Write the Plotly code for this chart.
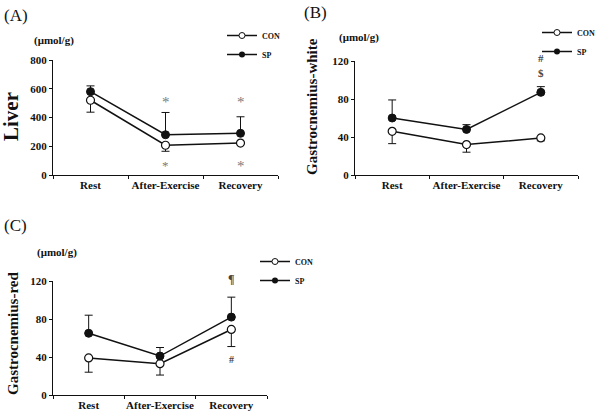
import plotly.graph_objects as go

categories = ["Rest", "After-Exercise", "Recovery"]

# Panel A: Liver
liver_con = [520, 207, 222]
liver_con_err = [83, 42, 0]
liver_sp = [580, 280, 290]
liver_sp_err = [40, 155, 115]

# Panel B: Gastrocnemius-white
white_con = [46, 32, 39]
white_con_err = [13, 8, 3]
white_sp = [60, 48, 87]
white_sp_err = [19, 5, 6]

# Panel C: Gastrocnemius-red
red_con = [39, 33, 69]
red_con_err = [15, 12, 18]
red_sp = [65, 41, 82]
red_sp_err = [19, 9, 21]

FONT = "Liberation Serif"
BLACK = "#111111"

fig = go.Figure()

panels = [
    ("x", "y", "legend", liver_con, liver_con_err, liver_sp, liver_sp_err),
    ("x2", "y2", "legend2", white_con, white_con_err, white_sp, white_sp_err),
    ("x3", "y3", "legend3", red_con, red_con_err, red_sp, red_sp_err),
]

for xa, ya, lg, con, con_e, sp, sp_e in panels:
    fig.add_trace(go.Scatter(
        x=categories, y=con, xaxis=xa, yaxis=ya, showlegend=False, name="CON",
        mode="lines+markers",
        line=dict(color=BLACK, width=1.5),
        marker=dict(symbol="circle", size=8, color="white", line=dict(color=BLACK, width=1.2)),
        error_y=dict(type="data", symmetric=False, array=[0, 0, 0], arrayminus=con_e,
                     color=BLACK, thickness=1, width=4),
    ))
    fig.add_trace(go.Scatter(
        x=categories, y=sp, xaxis=xa, yaxis=ya, showlegend=False, name="SP",
        mode="lines+markers",
        line=dict(color=BLACK, width=1.5),
        marker=dict(symbol="circle", size=8, color=BLACK, line=dict(color=BLACK, width=1)),
        error_y=dict(type="data", symmetric=False, array=sp_e, arrayminus=[0, 0, 0],
                     color=BLACK, thickness=1, width=4),
    ))
    # legend-only entries with smaller symbols
    fig.add_trace(go.Scatter(
        x=[None], y=[None], xaxis=xa, yaxis=ya, legend=lg, name="CON", mode="lines+markers",
        line=dict(color=BLACK, width=1.5),
        marker=dict(symbol="circle", size=6, color="white", line=dict(color=BLACK, width=1)),
    ))
    fig.add_trace(go.Scatter(
        x=[None], y=[None], xaxis=xa, yaxis=ya, legend=lg, name="SP", mode="lines+markers",
        line=dict(color=BLACK, width=1.5),
        marker=dict(symbol="circle", size=6, color=BLACK),
    ))

def xax(domain, anchor):
    return dict(domain=domain, anchor=anchor, type="category", tickson="boundaries",
                ticks="outside", ticklen=3, tickcolor=BLACK, showline=True, linecolor=BLACK,
                linewidth=1, showgrid=False, zeroline=False, range=[-0.5, 2.5], tickangle=0,
                automargin=False,
                tickfont=dict(family=FONT, size=11, color=BLACK, weight="bold"))

def yax(domain, anchor, rng, dtick):
    return dict(domain=domain, anchor=anchor, range=rng, dtick=dtick,
                ticks="outside", ticklen=3, tickcolor=BLACK, showline=True, linecolor=BLACK,
                linewidth=1, showgrid=False, zeroline=False, automargin=False,
                tickfont=dict(family=FONT, size=11, color=BLACK, weight="bold"))

fig.update_layout(
    width=600, height=413, margin=dict(l=0, r=0, t=0, b=0, autoexpand=False),
    paper_bgcolor="white", plot_bgcolor="white", showlegend=True,
    xaxis=xax([53/600, 278/600], "y"),
    yaxis=yax([1-175/413, 1-60/413], "x", [0, 800], 200),
    xaxis2=xax([355/600, 578/600], "y2"),
    yaxis2=yax([1-175/413, 1-61/413], "x2", [0, 120], 40),
    xaxis3=xax([53/600, 267/600], "y3"),
    yaxis3=yax([1-395/413, 1-281/413], "x3", [0, 120], 40),
)

legend_style = dict(font=dict(family=FONT, size=8, color=BLACK, weight="bold"),
                    bgcolor="rgba(0,0,0,0)", itemwidth=30, tracegroupgap=0,
                    xanchor="left", yanchor="top", itemclick=False)
fig.update_layout(
    legend=dict(x=222/600, y=1-21/413, **legend_style),
    legend2=dict(x=537/600, y=1-18/413, **legend_style),
    legend3=dict(x=255/600, y=1-247/413, **legend_style),
)

ann = []
def text(x, y, t, size, xanchor="center", angle=0, color=BLACK, weight="bold", xref="paper", yref="paper"):
    ann.append(dict(x=x, y=y, xref=xref, yref=yref, text=t, showarrow=False,
                    xanchor=xanchor, yanchor="middle", textangle=angle,
                    font=dict(family=FONT, size=size, color=color, weight=weight)))

# panel letters
text(2/600, 1-15/413, "(A)", 17, xanchor="left", weight="normal")
text(302/600, 1-13/413, "(B)", 17, xanchor="left", weight="normal")
text(2/600, 1-225/413, "(C)", 17, xanchor="left", weight="normal")
# units
text(32/600, 1-40/413, "(μmol/g)", 11, xanchor="left")
text(337/600, 1-37/413, "(μmol/g)", 11, xanchor="left")
text(35/600, 1-252/413, "(μmol/g)", 11, xanchor="left")
# y titles
text(11/600, 1-117/413, "Liver", 21, angle=-90)
text(312/600, 1-107/413, "Gastrocnemius-white", 15, angle=-90)
text(13/600, 1-334/413, "Gastrocnemius-red", 15, angle=-90)

# significance symbols (y given as fraction of each plot area's height)
GRAY = "#7a7a7a"
DG = "#444444"
text("After-Exercise", 505/800, "*", 15, color=GRAY, weight="normal", xref="x", yref="y domain")
text("After-Exercise", 65/800, "*", 13, color=GRAY, weight="normal", xref="x", yref="y domain")
text("Recovery", 505/800, "*", 15, color=GRAY, weight="normal", xref="x", yref="y domain")
text("Recovery", 65/800, "*", 15, color=GRAY, weight="normal", xref="x", yref="y domain")
text("Recovery", 123/120, "#", 11, color=DG, xref="x2", yref="y2 domain")
text("Recovery", 107/120, "$", 11, color=DG, xref="x2", yref="y2 domain")
text("Recovery", 122/120, "¶", 12, color=DG, xref="x3", yref="y3 domain")
text("Recovery", 37/120, "#", 10, color=DG, xref="x3", yref="y3 domain")

fig.update_layout(annotations=ann)

fig.write_html("out.html", config={"displayModeBar": False},
               post_script="document.body.style.margin='0';")
